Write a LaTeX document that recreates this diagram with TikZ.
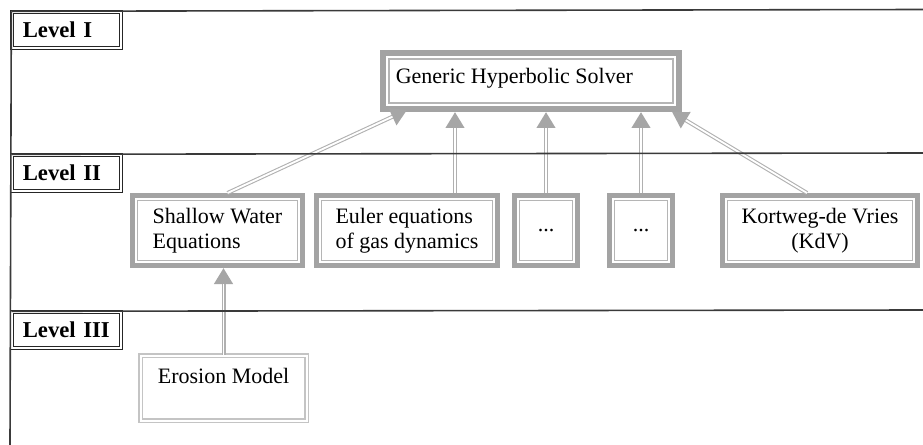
\documentclass[tikz,border=0pt]{standalone}
\usepackage{fontspec}
\setmainfont{Liberation Serif}
\usetikzlibrary{arrows.meta,calc}
\definecolor{framec}{HTML}{3A3A3A}
\definecolor{bandc}{HTML}{A3A3A3}
\definecolor{thinc}{HTML}{B5B5B5}
\definecolor{shaftc}{HTML}{B0B0B0}
\definecolor{headc}{HTML}{A6A6A6}
\definecolor{lightc}{HTML}{C4C4C4}
\newcommand\myconn[2]{%
  \draw[shaftc, line width=3pt, -{Triangle[width=13.5pt,length=12pt,color=headc]}] #1 -- #2;
  \draw[white, line width=1.4pt, shorten >=12pt] #1 -- #2;}
\begin{document}
\begin{tikzpicture}[x=0.75pt,y=-0.75pt,
  txt/.style={font=\fontsize{16.5}{18.75}\selectfont},
  lvl/.style={draw=black!85, double=white, line width=0.75pt, double distance=1.2pt,
    fill=white, font=\fontsize{17}{18}\selectfont\bfseries,
    minimum width=82pt, minimum height=27.3pt, inner xsep=8.25pt, inner ysep=0pt,
    text width=65.5pt, align=left},
  innerframe/.style={path picture={\draw[thinc, line width=1pt]
      ($(path picture bounding box.north west)+(5.2,5.2)$) rectangle
      ($(path picture bounding box.south east)+(-5.2,-5.2)$);}},
  lbox/.style={txt, draw=bandc, line width=3.75pt, fill=white, innerframe,
    minimum height=52.5pt, inner sep=0pt, align=left},
  genbox/.style={txt, draw=bandc, line width=4.5pt, fill=white,
    path picture={\draw[thinc, line width=1pt]
      ($(path picture bounding box.north west)+(6,6)$) rectangle
      ($(path picture bounding box.south east)+(-6,-6)$);},
    minimum width=222pt, minimum height=42pt, inner sep=0pt, align=left, text depth=8pt},
  erbox/.style={txt, draw=lightc, double=white, line width=1.1pt, double distance=1.5pt,
    fill=white, minimum width=124.5pt, minimum height=48.75pt, inner sep=0pt, align=left}
]
\fill[white] (0,0) rectangle (923,445);
\useasboundingbox (0,0) rectangle (923,445);

% level labels
\node[lvl] (lv1) at (66.5,30) {Level I};
\node[lvl] (lv2) at (66.5,173) {Level II};
\node[lvl] (lv3) at (66.5,330) {Level III};

% level I
\node[genbox] (gen) at (531,81) {\hspace*{-12.5pt}Generic Hyperbolic Solver\hspace*{12.5pt}};

% level II
\node[lbox, minimum width=127.5pt] (sw) at (217.5,230.5) {Shallow Water\\Equations};
\node[lbox, minimum width=135.75pt] (eu) at (407,230.5) {Euler equations\\of gas dynamics};
\node[lbox, minimum width=47.25pt] (d1) at (546,230.5) {...};
\node[lbox, minimum width=47.25pt] (d2) at (641,230.5) {...};
\node[lbox, minimum width=146.25pt, align=center] (kdv) at (820,230.5) {Kortweg-de Vries\\(KdV)};

% level III
\node[erbox] (er) at (223.5,388) {Erosion Model\\\mbox{}};

% connectors
\coordinate (e1) at ($(eu.north east)+(-45,0)$);
\myconn{($(sw.north)+(10,0)$)}{($(gen.south west)+(27,-2)$)}
\myconn{(e1)}{(e1 |- gen.south)}
\myconn{(d1.north)}{(d1.north |- gen.south)}
\myconn{(d2.north)}{(d2.north |- gen.south)}
\myconn{($(kdv.north)+(-13,0)$)}{($(gen.south east)+(-10,0)$)}
\myconn{(er.north)}{(er.north |- sw.south)}

% frame lines
\draw[framec, line width=1.2pt] (lv1.north west) -- (923,9.5);
\draw[framec, line width=1.2pt] (lv1.north west) -- (10,445);
\draw[framec, line width=1.2pt] (lv2.north west) -- (923,153);
\draw[framec, line width=1.2pt] (lv3.north west) -- (923,310);
\end{tikzpicture}
\end{document}
